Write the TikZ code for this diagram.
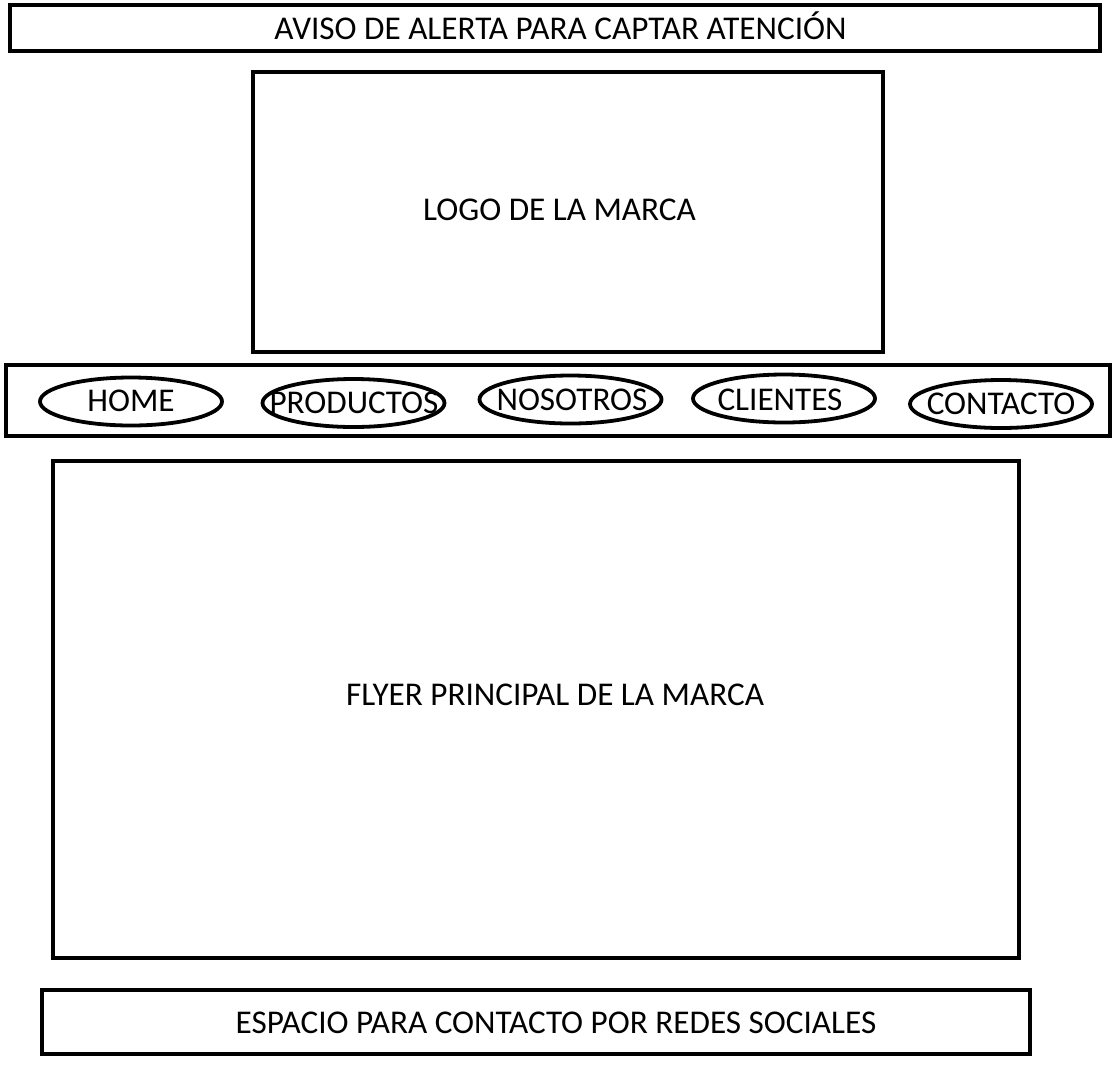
\documentclass[tikz,border=0pt]{standalone}
\usepackage{fontspec}
\setmainfont{Carlito}
\usetikzlibrary{shapes.geometric}
\begin{document}
\begin{tikzpicture}[x=1pt,y=-1pt,
  box/.style={draw=black,line width=4pt,rectangle,inner sep=0pt},
  navitem/.style={draw=black,line width=3.8pt,ellipse,inner sep=0pt,minimum width=182pt,minimum height=48pt},
  txt/.style={inner sep=0pt,anchor=base,font=\fontsize{33.2}{38}\selectfont}]
\useasboundingbox (0,0) rectangle (1118,1069);
\fill[white] (0,0) rectangle (1118,1069);
% boxes
\node[box,minimum width=1090pt,minimum height=46pt] (alert) at (555,28) {};
\node[box,minimum width=630pt,minimum height=280pt] (logo) at (568,212) {};
\node[box,minimum width=1104pt,minimum height=71pt] (nav) at (558,400.5) {};
\node[box,minimum width=966pt,minimum height=497pt] (flyer) at (536,709.5) {};
\node[box,minimum width=988pt,minimum height=64pt] (social) at (536,1022) {};
% texts
\node[txt] (alertt) at (560.5,39.7) {AVISO DE ALERTA PARA CAPTAR ATENCIÓN};
\node[txt] (logot) at (559.5,220.7) {LOGO DE LA MARCA};
\node[txt] (flyert) at (555,705.7) {FLYER PRINCIPAL DE LA MARCA};
\node[txt] (socialt) at (556,1033.7) {ESPACIO PARA CONTACTO POR REDES SOCIALES};
% nav ellipses
\node[navitem] (home) at (131,401.5) {};
\node[navitem] (prod) at (353.5,403) {};
\node[navitem] (noso) at (570.5,399.5) {};
\node[navitem] (cli) at (784,398.5) {};
\node[navitem] (cont) at (1001,404) {};
\node[txt] (homet) at (131,411.7) {HOME};
\node[txt] (prodt) at (354,413.7) {PRODUCTOS};
\node[txt] (nosot) at (572,410.7) {NOSOTROS};
\node[txt] (clit) at (780,410.2) {CLIENTES};
\node[txt] (contt) at (1001,414.7) {CONTACTO};
\end{tikzpicture}
\end{document}
